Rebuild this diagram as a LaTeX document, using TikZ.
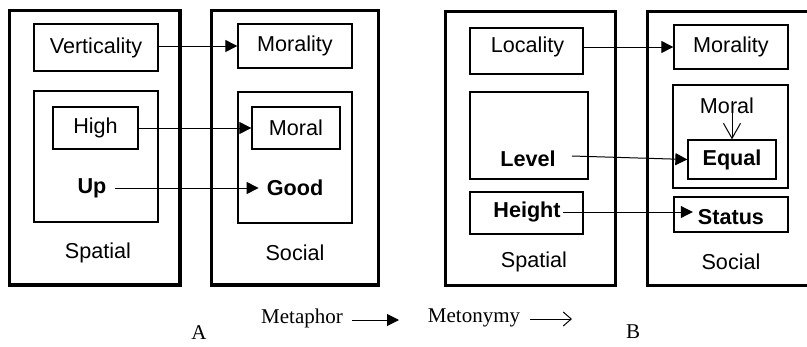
\documentclass[tikz,border=0pt]{standalone}
\usepackage{fontspec}
\setmainfont{Liberation Sans}
\newfontfamily\timesfont{Liberation Serif}
\usetikzlibrary{arrows.meta}
\begin{document}
\begin{tikzpicture}[x=1pt,y=-1pt,
  every node/.style={font=\fontsize{21.6}{25}\selectfont},
  frame/.style={draw, line width=3.2pt, inner sep=0pt},
  bx/.style={draw, line width=1.3pt, inner sep=0pt},
  lbl/.style={inner sep=0pt},
  bl/.style={font=\fontsize{21.6}{25}\selectfont\bfseries},
  serif/.style={font=\fontsize{21}{25}\selectfont\timesfont, inner sep=0pt},
  arr/.style={line width=1pt, -{Triangle[length=12pt,width=12pt]}},
  openarr/.style={line width=1pt, -{Straight Barb[length=8pt,width=14pt]}},
]
\useasboundingbox (0,0) rectangle (807,346);
% ---------- A ----------
\node[frame, minimum width=170.5pt, minimum height=274.5pt] (A1) at (94.75,147.75) {};
\node[frame, minimum width=167pt, minimum height=274.5pt] (A2) at (295,147.75) {};
\node[bx, minimum width=124pt, minimum height=47pt] (vert) at (96,47.5) {Verticality};
\node[bx, minimum width=114pt, minimum height=44pt] (morA) at (295,46) {Morality};
\node[bx, minimum width=124pt, minimum height=131pt] (inA1) at (96,156.5) {};
\node[bx, minimum width=114pt, minimum height=131pt] (inA2) at (295,157.5) {};
\node[bx, minimum width=85pt, minimum height=42pt] (high) at (95.5,128) {High};
\node[bx, minimum width=88pt, minimum height=42pt] (moral) at (296,128) {Moral};
\node[bl, inner sep=8pt] (up) at (92,188) {Up};
\node[bl, inner sep=8pt] (good) at (295,188) {Good};
\node[lbl] (spA) at (98,253) {Spatial};
\node[lbl] (soA) at (295,253) {Social};
\draw[arr] (vert.east |- morA.west) -- (morA.west);
\draw[arr] (high.east) -- (moral.west);
\draw[arr] (up.east) -- (good.west);
% ---------- B ----------
\node[frame, minimum width=170pt, minimum height=274pt] (B1) at (530.5,148.5) {};
\draw[line width=3.2pt] (807,11.5) -- (647.5,11.5) -- (647.5,285.5) -- (807,285.5);
\node[bx, minimum width=113pt, minimum height=46pt] (loc) at (526.5,51) {};
\node[lbl] (loct) at (527.5,47) {Locality};
\node[bx, minimum width=114pt, minimum height=44pt] (morB) at (731,47) {Morality};
\node[bx, minimum width=118pt, minimum height=87pt] (lvbox) at (529,135.5) {};
\node[bl, inner sep=0pt] (lv) at (528,159) {Level};
\node[bx, minimum width=113pt, minimum height=42pt] (htbox) at (526.5,213) {};
\node[bl, inner sep=2pt] (ht) at (527,212) {Height};
\node[lbl] (spB) at (534,262) {Spatial};
\node[bx, minimum width=115pt, minimum height=103pt] (inB) at (730.5,136.5) {};
\node[lbl] (moralB) at (727,106) {Moral};
\coordinate (moralout) at (732,101);
\node[bx, bl, minimum width=88pt, minimum height=39pt] (eq) at (732,159.5) {Equal};
\node[bx, minimum width=114pt, minimum height=35pt] (stbox) at (731,214.5) {};
\node[bl, inner sep=5pt] (st) at (731,217) {Status};
\node[lbl] (soB) at (731,262) {Social};
\coordinate (lvout) at (572,156);
\draw[arr] (loc.east |- morB.west) -- (morB.west);
\draw[arr] (lvout) -- (eq.west);
\draw[arr] (ht.east) -- (ht.east -| st.west);
\draw[line width=1pt, -{Straight Barb[length=15pt,width=17pt]}] (moralout) -- (eq.north);
% ---------- legend ----------
\node[serif] (meta) at (302,318) {Metaphor};
\coordinate (metaS) at (352,320);
\coordinate (metaE) at (399,320);
\draw[arr] (metaS) -- (metaE);
\node[serif] (meto) at (474,318) {Metonymy};
\coordinate (metoS) at (530,319);
\coordinate (metoE) at (572,319);
\draw[openarr] (metoS) -- (metoE);
\node[serif] (la) at (199,333) {A};
\node[serif] (lb) at (633,332) {B};
\end{tikzpicture}
\end{document}
